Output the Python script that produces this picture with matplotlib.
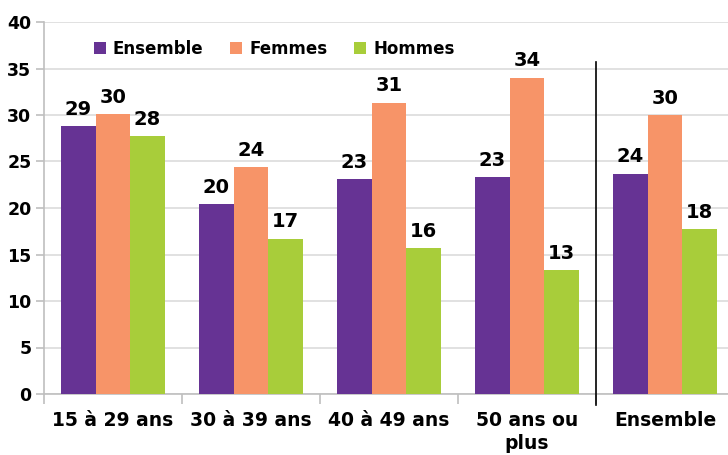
import numpy as np
import matplotlib
matplotlib.use("Agg")
import matplotlib.pyplot as plt

plt.rcParams['font.family'] = ['DejaVu Sans']
plt.rcParams['font.weight'] = 'bold'

# chart data
categories = ["15 à 29 ans", "30 à 39 ans", "40 à 49 ans", "50 ans ou\nplus", "Ensemble"]
series_names = ["Ensemble", "Femmes", "Hommes"]
ensemble = [28.8, 20.4, 23.1, 23.3, 23.7]
femmes = [30.1, 24.4, 31.3, 34.0, 30.0]
hommes = [27.7, 16.7, 15.7, 13.3, 17.7]
colors = ["#663394", "#f79468", "#a8cd3a"]

fig = plt.figure(figsize=(7.28, 4.55), dpi=100)
ax = fig.add_axes([44 / 728, 1 - 394 / 455, 690 / 728, 372 / 455])

x = np.arange(len(categories))
width = 0.25
for i, (vals, name) in enumerate(zip([ensemble, femmes, hommes], series_names)):
    pos = x + (i - 1) * width
    bars = ax.bar(pos, vals, width, color=colors[i], label=name, zorder=3)
    for b, v in zip(bars, vals):
        ax.text(b.get_x() + b.get_width() / 2, v + 0.8, f"{v:.0f}",
                ha="center", va="bottom", fontsize=14, fontweight="bold")

ax.set_ylim(0, 40)
ax.set_yticks(range(0, 41, 5))
ax.set_xlim(-0.5, len(categories) - 0.5)
ax.grid(axis="y", color="#dcdcdc", linewidth=1.2, zorder=0)

# category boundaries as ticks, labels at centres
ax.set_xticks(np.arange(-0.5, len(categories), 1.0))
ax.set_xticklabels([])
ax.set_xticks(x, minor=True)
ax.set_xticklabels(categories, minor=True, fontsize=13.5, fontweight="bold",
                   va="top", ha="center", linespacing=1.3)
ax.tick_params(axis="x", which="minor", length=0, pad=12)
ax.tick_params(axis="x", which="major", length=7, color="#bfbfbf", width=1.2)
ax.tick_params(axis="y", length=6, color="#bfbfbf", width=1.2, labelsize=12.5, pad=3)
for lab in ax.get_yticklabels():
    lab.set_fontweight("bold")

for s in ["top", "right"]:
    ax.spines[s].set_visible(False)
for s in ["left", "bottom"]:
    ax.spines[s].set_color("#bfbfbf")
    ax.spines[s].set_linewidth(1.2)

# separator before the overall group
ax.axvline(3.5, ymin=-0.03, ymax=0.892, color="black", linewidth=1.2, clip_on=False, zorder=4)

leg = ax.legend(loc="center left", bbox_to_anchor=(0.05, 0.928), ncol=3, frameon=False,
                handlelength=0.75, handleheight=0.75, handletextpad=0.4, columnspacing=1.6,
                prop={"size": 12, "weight": "bold"})

fig.savefig("out.png", dpi=100)
